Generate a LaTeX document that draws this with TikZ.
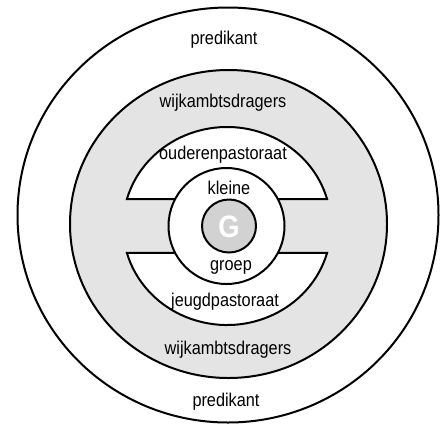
\documentclass[tikz,border=0pt]{standalone}
\usepackage{fontspec}
\setmainfont{Liberation Sans}[FakeStretch=0.88]
\usepackage{tikz}
\usetikzlibrary{calc,positioning}
\usepackage{xcolor}
\definecolor{RingGray}{HTML}{E4E4E4}
\definecolor{CoreGray}{HTML}{D2D2D2}
\definecolor{RingLine}{HTML}{000000}
\tikzset{
  ringline/.style={draw=RingLine,line width=2pt},
  ring/.style={ringline,fill=white},
  grayring/.style={ringline,fill=RingGray},
  core/.style={ringline,fill=CoreGray},
  tag/.style={inner sep=0pt,font=\fontsize{18.5}{20}\selectfont,text=black},
  coretag/.style={inner sep=0pt,font=\fontsize{31}{32}\selectfont\bfseries,text=white}
}

\begin{document}
\begin{tikzpicture}[x=1pt,y=1pt]
  \useasboundingbox (0,0) rectangle (441,-424);
  \fill[white] (0,0) rectangle (441,-424);
  \coordinate (mid) at (227,-226);
  % outer and gray rings
  \draw[ring] (228,-215) ellipse [x radius=210.5,y radius=207.5];
  \draw[grayring] (228.5,-224) ellipse [x radius=158.5,y radius=154];
  % the two white bands
  \draw[ring] ($(mid)+(15.8:104 and 99)$) arc[start angle=15.8,end angle=164.2,x radius=104,y radius=99] -- cycle;
  \draw[ring] ($(mid)+(-15.8:104 and 99)$) arc[start angle=-15.8,end angle=-164.2,x radius=104,y radius=99] -- cycle;
  % small group and G
  \draw[ring] (226.5,-226) circle[radius=58];
  \draw[core] (229,-226) ellipse [x radius=27,y radius=26.5];

  \node[tag] (predikanttop) at (224,-40) {predikant};
  \node[tag] (wijktop) at (223,-103) {wijkambtsdragers};
  \node[tag] (ouderen) at (223,-155) {ouderenpastoraat};
  \node[tag] (kleine) at (229,-188) {kleine};
  \node[coretag] (g) at (229,-227) {G};
  \node[tag] (groep) at (231,-267) {groep};
  \node[tag] (jeugd) at (225,-302) {jeugdpastoraat};
  \node[tag] (wijkbottom) at (228,-350) {wijkambtsdragers};
  \node[tag] (predikantbottom) at (226,-402) {predikant};
\end{tikzpicture}
\end{document}
